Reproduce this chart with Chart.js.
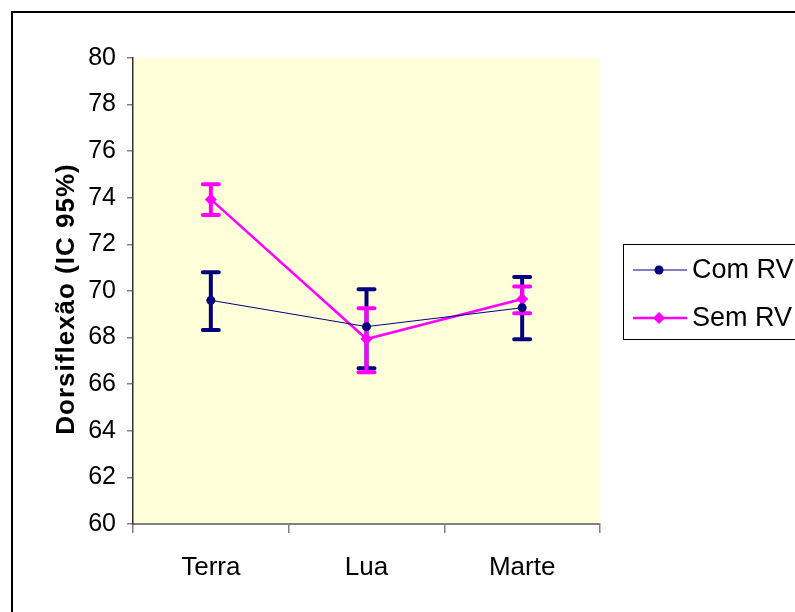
<!DOCTYPE html>
<html>
<head>
<meta charset="utf-8">
<script src="https://cdn.jsdelivr.net/npm/chart.js@4/dist/chart.umd.min.js"></script>
<style>
  html, body { margin: 0; padding: 0; background: #fff; }
  #wrap { width: 795px; height: 612px; }
</style>
</head>
<body>
<div id="wrap"><canvas id="grafico" width="795" height="612"></canvas></div>
<script>
// categorias e valores (medias + IC 95%)
const categorias = ['Terra', 'Lua', 'Marte'];
const comRV = [69.6, 68.47, 69.28];
const comRVmin = [68.33, 66.68, 67.93];
const comRVmax = [70.8, 70.07, 70.6];
const semRV = [73.93, 67.94, 69.66];
const semRVmin = [73.26, 66.51, 69.04];
const semRVmax = [74.58, 69.26, 70.19];
const yTicks = [60, 62, 64, 66, 68, 70, 72, 74, 76, 78, 80];

const NAVY = '#000080';
const MAGENTA = '#FF00FF';
const FONTE = '"Liberation Sans", Arial, sans-serif';

const intervalos = [
  { min: comRVmin, max: comRVmax, cor: NAVY },
  { min: semRVmin, max: semRVmax, cor: MAGENTA }
];

// fundo, moldura externa e area amarela
const fundo = {
  id: 'fundo',
  beforeDraw(chart) {
    const ctx = chart.ctx, a = chart.chartArea;
    ctx.save();
    ctx.fillStyle = '#fff';
    ctx.fillRect(0, 0, chart.width, chart.height);
    ctx.strokeStyle = '#000';
    ctx.lineWidth = 2;
    ctx.strokeRect(12, 12, 1000, 1000);
    ctx.fillStyle = '#FFFFD9';
    ctx.fillRect(a.left, a.top, a.right - a.left, a.bottom - a.top);
    ctx.restore();
  }
};

// barras de erro
const barrasErro = {
  id: 'barrasErro',
  beforeDatasetsDraw(chart) {
    const ctx = chart.ctx;
    const xs = chart.scales.x, ys = chart.scales.y;
    ctx.save();
    ctx.lineCap = 'round';
    intervalos.forEach(iv => {
      ctx.strokeStyle = iv.cor;
      ctx.lineWidth = 4;
      for (let i = 0; i < categorias.length; i++) {
        const x = xs.getPixelForValue(i);
        const y1 = ys.getPixelForValue(iv.min[i]);
        const y2 = ys.getPixelForValue(iv.max[i]);
        ctx.beginPath();
        ctx.moveTo(x, y1); ctx.lineTo(x, y2);
        ctx.moveTo(x - 8, y1); ctx.lineTo(x + 8, y1);
        ctx.moveTo(x - 8, y2); ctx.lineTo(x + 8, y2);
        ctx.stroke();
      }
    });
    ctx.restore();
  }
};

// titulo do eixo y e legenda
const extras = {
  id: 'extras',
  afterDraw(chart) {
    const ctx = chart.ctx;
    ctx.save();
    ctx.translate(67, 299);
    ctx.rotate(-Math.PI / 2);
    ctx.font = 'bold 26px ' + FONTE;
    ctx.letterSpacing = '1px';
    ctx.fillStyle = '#000';
    ctx.textAlign = 'center';
    ctx.textBaseline = 'middle';
    ctx.fillText('Dorsiflexão (IC 95%)', 0, 0);
    ctx.restore();

    ctx.save();
    ctx.strokeStyle = '#000';
    ctx.lineWidth = 1;
    ctx.fillStyle = '#fff';
    ctx.fillRect(623.5, 244.5, 300, 95);
    ctx.strokeRect(623.5, 244.5, 300, 95);
    const linhas = [270, 318];
    chart.data.datasets.forEach((ds, k) => {
      const y = linhas[k];
      ctx.strokeStyle = ds.borderColor;
      ctx.lineWidth = ds.borderWidth;
      ctx.beginPath();
      ctx.moveTo(633, y); ctx.lineTo(687, y);
      ctx.stroke();
      ctx.fillStyle = ds.borderColor;
      ctx.beginPath();
      if (ds.pointStyle === 'rectRot') {
        ctx.moveTo(659, y - 6); ctx.lineTo(665, y); ctx.lineTo(659, y + 6); ctx.lineTo(653, y);
        ctx.closePath();
      } else {
        ctx.arc(659, y, 4.5, 0, Math.PI * 2);
      }
      ctx.fill();
      ctx.fillStyle = '#000';
      ctx.font = '27px ' + FONTE;
      ctx.textBaseline = 'middle';
      ctx.fillText(ds.label, 692, y + 1);
    });
    ctx.restore();
  }
};

new Chart(document.getElementById('grafico'), {
  type: 'line',
  data: {
    labels: categorias,
    datasets: [
      {
        label: 'Com RV',
        data: comRV,
        borderColor: NAVY,
        backgroundColor: NAVY,
        borderWidth: 1,
        pointStyle: 'circle',
        pointRadius: 4.5,
        pointBorderWidth: 0,
        fill: false,
        tension: 0
      },
      {
        label: 'Sem RV',
        data: semRV,
        borderColor: MAGENTA,
        backgroundColor: MAGENTA,
        borderWidth: 2.5,
        pointStyle: 'rectRot',
        pointRadius: 6,
        pointBorderWidth: 0,
        fill: false,
        tension: 0,
        order: 1
      }
    ]
  },
  options: {
    responsive: false,
    animation: false,
    layout: { padding: { left: 0, top: 58, right: 195, bottom: 0 } },
    plugins: {
      legend: { display: false },
      tooltip: { enabled: false }
    },
    scales: {
      x: {
        offset: true,
        grid: { offset: true, drawOnChartArea: false, tickLength: 9, color: '#808080', lineWidth: 1.5 },
        border: { color: '#808080', width: 2 },
        ticks: { color: '#000', font: { family: FONTE, size: 26 }, padding: 19 },
        afterFit(s) { s.height = 88; }
      },
      y: {
        min: 60,
        max: 80,
        afterBuildTicks(s) { s.ticks = yTicks.map(v => ({ value: v })); },
        grid: { drawOnChartArea: false, tickLength: 6, color: '#808080', lineWidth: 1.5 },
        border: { color: '#303030', width: 1.5 },
        ticks: { color: '#000', font: { family: FONTE, size: 25 }, padding: 11 },
        afterFit(s) { s.width = 133; }
      }
    }
  },
  plugins: [fundo, barrasErro, extras]
});
</script>
</body>
</html>
